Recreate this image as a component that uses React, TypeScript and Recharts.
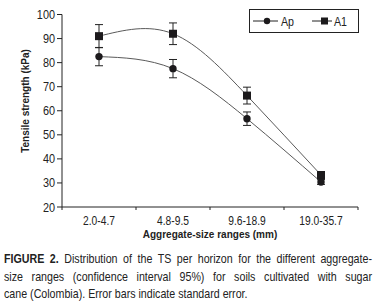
import { ErrorBar, Line, LineChart, XAxis, YAxis } from "recharts";

const RANGES = ["2.0-4.7", "4.8-9.5", "9.6-18.9", "19.0-35.7"];
const AP = [82.5, 77.5, 56.7, 30.4];
const AP_ERR = [3.8, 3.8, 2.8, 1.0];
const A1 = [91.0, 92.0, 66.3, 33.3];
const A1_ERR = [4.8, 4.5, 3.5, 1.2];
const Y_TICKS = [20, 30, 40, 50, 60, 70, 80, 90, 100];
const CAPTION = [
  "Distribution of the TS per horizon for the different aggregate-",
  "size ranges (confidence interval 95%) for soils cultivated with sugar",
  "cane (Colombia). Error bars indicate standard error.",
];

const FONT = "'Liberation Sans', Arial, sans-serif";
const INK = "#222";
const MARK = "#1c1a1c";
const LINE = "#5a5a5a";
const NARROW = 0.82;
const HALF_BAND = 37;

const data = RANGES.map((r, i) => ({ range: r, ap: AP[i], apErr: AP_ERR[i], a1: A1[i], a1Err: A1_ERR[i] }));

const SquareDot = (props: any) => {
  const { cx, cy } = props;
  if (cx == null || cy == null) return null;
  return <rect x={cx - 4} y={cy - 4} width={8} height={8} fill={MARK} />;
};

const CircleDot = (props: any) => {
  const { cx, cy } = props;
  if (cx == null || cy == null) return null;
  return <circle cx={cx} cy={cy} r={3.7} fill={MARK} />;
};

const XTick = (props: any) => {
  const { x, y, payload, index } = props;
  return (
    <g>
      <line x1={x - HALF_BAND} x2={x - HALF_BAND} y1={y} y2={y + 3} stroke={INK} />
      {index === RANGES.length - 1 && <line x1={x + HALF_BAND} x2={x + HALF_BAND} y1={y} y2={y + 3} stroke={INK} />}
      <text
        transform={`translate(${x},${y + 18}) scale(${NARROW},1)`}
        textAnchor="middle"
        fontFamily={FONT}
        fontSize={12.5}
        fill={INK}
      >
        {payload.value}
      </text>
    </g>
  );
};

const YTick = (props: any) => {
  const { x, y, payload } = props;
  return (
    <text
      transform={`translate(${x},${y + 4.5}) scale(${NARROW + 0.05},1)`}
      textAnchor="end"
      fontFamily={FONT}
      fontSize={12.5}
      fill={INK}
    >
      {payload.value}
    </text>
  );
};

function LegendBox() {
  return (
    <svg width={112} height={26} style={{ position: "absolute", left: 248, top: 8 }}>
      <rect x={1.5} y={1.5} width={109} height={23} fill="#fff" stroke={INK} />
      <line x1={5} x2={30} y1={13} y2={13} stroke={INK} />
      <circle cx={19} cy={13} r={3.2} fill={MARK} />
      <text transform={`translate(33,17.5) scale(${NARROW},1)`} fontFamily={FONT} fontSize={13} fill={INK}>
        Ap
      </text>
      <line x1={64} x2={84} y1={13} y2={13} stroke={INK} />
      <rect x={73} y={9.5} width={7} height={7} fill={MARK} />
      <text transform={`translate(86,17.5) scale(${NARROW},1)`} fontFamily={FONT} fontSize={13} fill={INK}>
        A1
      </text>
    </svg>
  );
}

export default function App() {
  return (
    <div style={{ position: "absolute", left: 0, top: 0, width: 376, height: 303, background: "#fff", fontFamily: FONT }}>
      <LineChart width={376} height={240} data={data} margin={{ top: 14.5, right: 18, left: 0, bottom: 3 }}>
        <XAxis
          dataKey="range"
          height={30}
          padding={{ left: HALF_BAND, right: HALF_BAND }}
          tickLine={false}
          tickSize={0}
          tickMargin={0}
          axisLine={{ stroke: INK }}
          tick={<XTick />}
          interval={0}
        />
        <YAxis
          width={62}
          domain={[20, 100]}
          ticks={Y_TICKS}
          tickSize={5}
          tickMargin={2}
          tickLine={{ stroke: INK }}
          axisLine={{ stroke: INK }}
          tick={<YTick />}
        />
        <Line
          dataKey="a1"
          type="natural"
          stroke={LINE}
          strokeWidth={1}
          dot={<SquareDot />}
          activeDot={false}
          isAnimationActive={false}
        >
          <ErrorBar dataKey="a1Err" width={4} stroke={INK} strokeWidth={1} direction="y" />
        </Line>
        <Line
          dataKey="ap"
          type="natural"
          stroke={LINE}
          strokeWidth={1}
          dot={<CircleDot />}
          activeDot={false}
          isAnimationActive={false}
        >
          <ErrorBar dataKey="apErr" width={4} stroke={INK} strokeWidth={1} direction="y" />
        </Line>
      </LineChart>
      <LegendBox />
      <svg width={376} height={303} style={{ position: "absolute", left: 0, top: 0, pointerEvents: "none" }}>
        <text
          transform="translate(29,101) rotate(-90)"
          textAnchor="middle"
          fontFamily={FONT}
          fontSize={10}
          fontWeight="bold"
          fill={INK}
        >
          Tensile strength (kPa)
        </text>
        <text x={210} y={238} textAnchor="middle" fontFamily={FONT} fontSize={10} fontWeight="bold" fill={INK}>
          Aggregate-size ranges (mm)
        </text>
      </svg>
      <div
        style={{
          position: "absolute",
          left: 4,
          top: 250,
          width: 368 / NARROW,
          transform: `scaleX(${NARROW})`,
          transformOrigin: "0 0",
          fontSize: 13,
          lineHeight: "17.5px",
          color: INK,
        }}
      >
        {CAPTION.map((line, i) => (
          <div
            key={i}
            style={{
              textAlign: i < CAPTION.length - 1 ? "justify" : "left",
              textAlignLast: i < CAPTION.length - 1 ? "justify" : "left",
              whiteSpace: "nowrap",
            }}
          >
            {i === 0 && <b>FIGURE 2. </b>}
            {line}
          </div>
        ))}
      </div>
    </div>
  );
}
